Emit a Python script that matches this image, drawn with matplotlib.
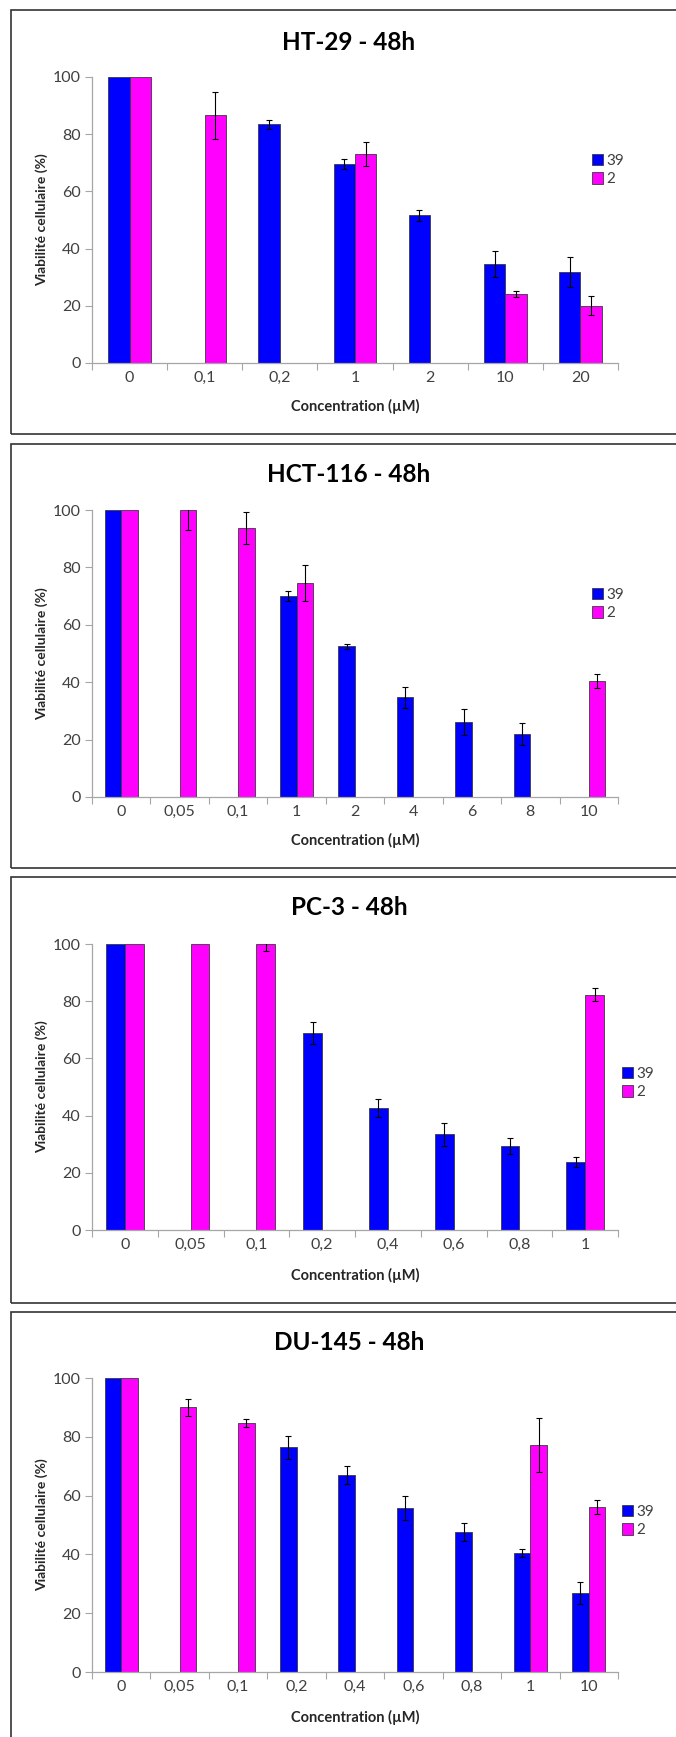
import numpy as np
import matplotlib.pyplot as plt
from matplotlib.patches import Rectangle

plt.rcParams['font.family'] = ['Lato', 'DejaVu Sans']

nan = np.nan
series_names = ['39', '2']

ht29_labels = ['0', '0,1', '0,2', '1', '2', '10', '20']
ht29_c39 = [100, nan, 83.4, 69.6, 51.6, 34.7, 31.9]
ht29_c39_err = [nan, nan, 1.7, 1.8, 2.0, 4.5, 5.2]
ht29_c2 = [100, 86.6, nan, 73.2, nan, 24.2, 20.0]
ht29_c2_err = [nan, 8.3, nan, 4.2, nan, 1.1, 3.3]

hct116_labels = ['0', '0,05', '0,1', '1', '2', '4', '6', '8', '10']
hct116_c39 = [100, nan, nan, 70.1, 52.5, 34.7, 26.1, 21.9, nan]
hct116_c39_err = [nan, nan, nan, 1.8, 0.8, 3.8, 4.5, 3.8, nan]
hct116_c2 = [100, 100, 93.6, 74.7, nan, nan, nan, nan, 40.4]
hct116_c2_err = [nan, 7.1, 5.6, 6.3, nan, nan, nan, nan, 2.4]

pc3_labels = ['0', '0,05', '0,1', '0,2', '0,4', '0,6', '0,8', '1']
pc3_c39 = [100, nan, nan, 68.9, 42.7, 33.4, 29.3, 23.9]
pc3_c39_err = [nan, nan, nan, 3.8, 3.1, 3.9, 2.8, 1.7]
pc3_c2 = [100, 100, 100, nan, nan, nan, nan, 82.2]
pc3_c2_err = [nan, nan, 2.4, nan, nan, nan, nan, 2.3]

du145_labels = ['0', '0,05', '0,1', '0,2', '0,4', '0,6', '0,8', '1', '10']
du145_c39 = [100, nan, nan, 76.4, 67.0, 55.8, 47.6, 40.5, 26.9]
du145_c39_err = [nan, nan, nan, 3.9, 3.1, 4.1, 3.1, 1.5, 3.7]
du145_c2 = [100, 90.0, 84.8, nan, nan, nan, nan, 77.2, 56.2]
du145_c2_err = [nan, 3.0, 1.4, nan, nan, nan, nan, 9.2, 2.4]

titles = ['HT-29 - 48h', 'HCT-116 - 48h', 'PC-3 - 48h', 'DU-145 - 48h']

W, H = 676, 1737
fig = plt.figure(figsize=(W / 100, H / 100), dpi=100)


def fx(x):
    return x / W


def fy(y):
    return 1 - y / H


# pixel layout of each panel: box top/bottom, axes top/bottom, title y, xlabel y, legend x/y
layout = [
    dict(box=(10, 434), ax=(77, 363), title=42, xlab=406, leg=(592, 170)),
    dict(box=(444, 868), ax=(510, 797), title=475, xlab=840, leg=(592, 604)),
    dict(box=(877, 1303), ax=(944, 1230), title=908, xlab=1275, leg=(622, 1083)),
    dict(box=(1312, 1780), ax=(1378, 1672), title=1343, xlab=1717, leg=(622, 1521)),
]

panels = [
    (ht29_labels, ht29_c39, ht29_c39_err, ht29_c2, ht29_c2_err),
    (hct116_labels, hct116_c39, hct116_c39_err, hct116_c2, hct116_c2_err),
    (pc3_labels, pc3_c39, pc3_c39_err, pc3_c2, pc3_c2_err),
    (du145_labels, du145_c39, du145_c39_err, du145_c2, du145_c2_err),
]

colors = ['#0000FF', '#FF00FF']
ax_left, ax_right = 92, 618
bw = 1 / 3.5

for title, lay, (labels, v39, e39, v2, e2) in zip(titles, layout, panels):
    bt, bb = lay['box']
    fig.patches.append(Rectangle((fx(11), fy(bb)), fx(720 - 11), fy(bt) - fy(bb),
                                 transform=fig.transFigure, fill=False,
                                 edgecolor='#333333', linewidth=1.2))
    at, ab = lay['ax']
    ax = fig.add_axes([fx(ax_left), fy(ab), fx(ax_right - ax_left), fy(at) - fy(ab)])
    n = len(labels)
    x = np.arange(n)
    handles = []
    for k, (vals, errs) in enumerate([(v39, e39), (v2, e2)]):
        vals = np.array(vals, dtype=float)
        errs = np.array(errs, dtype=float)
        pos = x + (k - 0.5) * bw
        m = ~np.isnan(vals)
        h = ax.bar(pos[m], vals[m], width=bw, color=colors[k], edgecolor='#3a3a3a',
                   linewidth=0.6, label=series_names[k], zorder=2)
        handles.append(h)
        me = m & ~np.isnan(errs)
        ax.errorbar(pos[me], vals[me], yerr=errs[me], fmt='none', ecolor='black',
                    elinewidth=0.8, capsize=2.5, capthick=0.8, zorder=3)

    ax.set_xlim(-0.5, n - 0.5)
    ax.set_ylim(0, 100)
    ax.set_yticks([0, 20, 40, 60, 80, 100])
    ax.set_xticks(np.arange(n + 1) - 0.5)
    ax.set_xticklabels([])
    ax.set_xticks(x, labels, minor=True)
    ax.tick_params(axis='x', which='major', length=5, color='#a6a6a6', direction='out')
    ax.tick_params(axis='x', which='minor', length=0, pad=6, labelsize=11.5, labelcolor='#404040')
    ax.tick_params(axis='y', length=5, color='#a6a6a6', direction='out', labelsize=11.5,
                   labelcolor='#404040', pad=3)
    for s in ['top', 'right']:
        ax.spines[s].set_visible(False)
    for s in ['left', 'bottom']:
        ax.spines[s].set_color('#a6a6a6')
        ax.spines[s].set_linewidth(0.9)

    fig.text(fx(349), fy(lay['title']), title, ha='center', va='center',
             fontsize=17.5, fontweight='bold')
    fig.text(fx(355), fy(lay['xlab']), 'Concentration (µM)', ha='center', va='center',
             fontsize=10.5, fontweight='bold', color='#262626')
    fig.text(fx(42), fy((at + ab) / 2), 'Viabilité cellulaire (%)', ha='center',
             va='center', rotation=90, fontsize=10, fontweight='bold', color='#262626')
    lx, ly = lay['leg']
    ax.legend(handles=handles, loc='center left', bbox_to_anchor=(fx(lx), fy(ly)),
              bbox_transform=fig.transFigure, frameon=False, fontsize=11,
              handlelength=0.75, handleheight=0.75, handletextpad=0.2,
              labelspacing=0.3, borderpad=0, borderaxespad=0, labelcolor='#404040')

fig.savefig('out.png', dpi=100)
